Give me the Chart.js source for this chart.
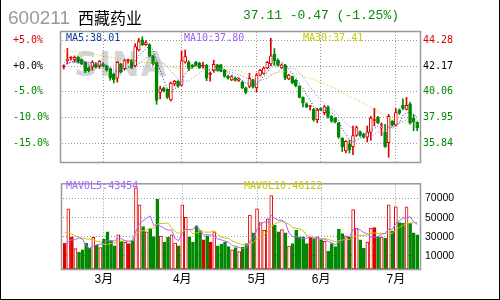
<!DOCTYPE html>
<html>
<head>
<meta charset="utf-8">
<script src="https://cdn.jsdelivr.net/npm/chart.js@4.4.0/dist/chart.umd.min.js"></script>
<style>
  body { margin: 0; background: #fff; }
  #wrap { position: relative; width: 500px; height: 300px; overflow: hidden; background: #fff;
          box-sizing: border-box; border: 1px solid #000; border-top: none; }
  canvas { position: absolute; left: -1px; z-index: 1; }
  .txt { position: absolute; white-space: pre; z-index: 2; line-height: 1; }
  .mono { font-family: "DejaVu Sans Mono", monospace; font-size: 10px; }
  #mark { position: absolute; left: 73px; top: 45px; z-index: 0; font: bold 33px "DejaVu Sans", sans-serif;
          color: #d4d4d4; letter-spacing: 1px; }
</style>
</head>
<body>
<div id="wrap">
  <div class="txt" style="left:7px;top:7px;font:19px 'Liberation Sans',sans-serif;color:#999">600211</div>
  <div class="txt" style="left:77px;top:5px;font:16px 'Noto Sans CJK SC',sans-serif;color:#000">西藏药业</div>
  <div class="txt" style="left:242px;top:8px;font:13px 'Liberation Mono',monospace;color:#118811">37.11 -0.47 (-1.25%)</div>
  <div id="mark">SINA</div>
  <div class="txt mono" style="left:65px;top:33px;color:#0a3d91">MA5:38.01</div>
  <div class="txt mono" style="left:183px;top:33px;color:#a060ff">MA10:37.80</div>
  <div class="txt mono" style="left:302px;top:33px;color:#c8c800">MA30:37.41</div>
  <div class="txt mono" style="left:65px;top:181px;color:#a366ff">MAVOL5:43454</div>
  <div class="txt mono" style="left:243px;top:181px;color:#c8c800">MAVOL10:46122</div>
  <canvas id="price" width="500" height="172" style="top:0"></canvas>
  <canvas id="vol" width="500" height="128" style="top:172px"></canvas>
</div>
<script>
const basePrice = 42.17;
const priceTicks = [44.28, 42.17, 40.06, 37.95, 35.84];
const volumeTicks = [10000, 30000, 50000, 70000];
const monthStarts = [11, 33, 54, 72, 93];
const monthNames = ['3月', '4月', '5月', '6月', '7月'];

const openP = [42.10, 42.61, 42.82, 42.69, 42.88, 42.69, 42.48, 42.04, 42.09, 42.35,
  42.22, 42.35, 42.17, 41.96, 41.51, 41.17, 42.35, 41.96, 42.61, 42.61,
  42.19, 43.50, 44.31, 43.92, 43.92, 43.00, 42.48, 40.00, 40.39, 40.26,
  39.39, 40.70, 40.92, 40.60, 42.48, 42.48, 42.22, 42.48, 42.41, 42.17,
  42.22, 41.48, 41.82, 42.27, 42.27, 41.82, 41.35, 41.04, 41.17, 40.99,
  40.84, 40.39, 40.52, 41.04, 40.39, 41.43, 41.57, 42.01, 42.35, 43.13,
  42.66, 42.01, 42.22, 41.12, 41.31, 41.00, 40.52, 39.60, 39.08, 38.85,
  38.61, 37.78, 38.69, 38.35, 38.82, 38.04, 37.90, 37.51, 36.26, 35.21,
  35.74, 35.55, 36.47, 36.78, 36.60, 36.33, 36.73, 37.70, 37.98, 37.08,
  36.73, 35.89, 37.64, 37.31, 38.56, 38.95, 38.61, 39.08, 37.90, 37.55];
const highP = [42.27, 43.61, 42.95, 43.00, 42.95, 42.74, 42.52, 42.10, 42.61, 42.45,
  42.62, 42.45, 42.22, 42.00, 41.60, 42.55, 42.40, 42.70, 42.74, 42.70,
  44.00, 44.44, 44.57, 44.25, 44.00, 43.05, 42.52, 40.52, 40.45, 40.30,
  40.85, 41.00, 40.98, 43.39, 43.47, 42.60, 42.30, 42.55, 42.48, 42.48,
  42.30, 41.70, 42.65, 42.32, 42.30, 41.90, 41.42, 41.38, 41.25, 41.20,
  40.92, 40.45, 41.57, 41.10, 41.57, 41.90, 42.10, 42.55, 44.44, 43.61,
  42.75, 42.35, 42.30, 41.50, 41.35, 41.05, 40.55, 39.65, 39.15, 38.95,
  38.70, 38.70, 38.75, 38.95, 38.90, 38.10, 37.95, 37.55, 36.30, 36.05,
  36.08, 37.25, 37.25, 36.85, 36.65, 37.25, 38.04, 38.69, 38.05, 37.51,
  37.39, 38.20, 37.70, 38.69, 38.65, 39.48, 39.60, 39.20, 38.17, 37.60];
const lowP = [41.92, 42.35, 42.65, 42.48, 42.40, 42.28, 41.62, 41.68, 41.83, 42.00,
  41.97, 42.10, 41.75, 41.00, 40.78, 40.84, 41.60, 41.85, 42.40, 41.95,
  42.10, 43.40, 43.85, 43.85, 42.90, 42.25, 39.03, 39.48, 40.05, 39.50,
  39.30, 40.55, 40.45, 40.52, 42.40, 41.80, 42.00, 42.15, 41.95, 42.00,
  40.97, 40.92, 41.65, 41.75, 41.70, 41.25, 41.10, 40.97, 40.92, 40.90,
  40.30, 39.90, 40.39, 40.35, 40.05, 41.35, 41.50, 41.95, 42.20, 42.22,
  42.15, 41.95, 41.05, 41.05, 40.70, 40.45, 39.55, 38.82, 38.75, 38.56,
  37.64, 37.51, 38.50, 38.17, 37.90, 37.55, 37.50, 36.25, 35.16, 35.05,
  35.03, 34.90, 36.40, 36.40, 36.25, 35.94, 36.08, 37.25, 37.45, 36.47,
  35.50, 34.69, 37.25, 37.25, 38.20, 38.60, 38.56, 37.40, 36.86, 36.86];
const closeP = [42.10, 42.74, 42.82, 42.88, 42.48, 42.35, 41.75, 41.78, 42.48, 42.09,
  42.56, 42.17, 41.82, 41.17, 41.04, 42.48, 41.70, 42.61, 42.61, 42.01,
  43.76, 44.18, 43.92, 44.10, 43.00, 42.35, 39.35, 40.31, 40.13, 39.60,
  40.78, 40.92, 40.52, 42.61, 42.95, 41.96, 42.09, 42.22, 42.04, 42.17,
  41.17, 41.48, 42.30, 41.82, 41.75, 41.31, 41.17, 41.31, 40.99, 41.10,
  40.39, 40.00, 41.17, 40.44, 41.43, 41.82, 42.01, 42.48, 43.00, 42.61,
  42.22, 42.27, 41.17, 41.43, 40.78, 40.55, 39.60, 39.13, 38.82, 38.85,
  37.78, 38.56, 38.56, 38.82, 38.04, 37.64, 37.57, 36.33, 35.55, 36.00,
  35.29, 36.47, 37.12, 36.47, 36.33, 36.78, 37.90, 37.70, 37.51, 37.15,
  35.55, 38.04, 37.31, 38.35, 38.30, 38.69, 38.95, 37.51, 37.58, 37.11];
const volume = [23600, 59300, 30100, 17800, 13900, 16500, 23600, 18100, 29500, 21400,
  18800, 27500, 35300, 26200, 20700, 32100, 25300, 24600, 22900, 26200,
  81300, 63500, 40800, 35300, 38500, 30400, 69300, 30700, 24600, 29500,
  32100, 23600, 20700, 63500, 50500, 30100, 24600, 41400, 36600, 26800,
  31100, 24600, 35300, 20700, 22400, 24600, 19700, 16500, 18800, 14600,
  19100, 22900, 52800, 34300, 59300, 45000, 36900, 48900, 73200, 42400,
  35300, 37500, 34300, 20400, 22900, 36900, 30100, 30100, 22900, 29500,
  27800, 30100, 26800, 25300, 14900, 22900, 19700, 38200, 33300, 31100,
  29500, 58600, 39200, 26800, 18100, 24600, 39200, 39800, 30100, 30100,
  28500, 63500, 36000, 61300, 45000, 44000, 61300, 44000, 34300, 32100];

// moving average values at the left edge (their windows start before the chart)
const ma5Head = [42.20, 42.35, 42.48, 42.58];
const ma10Head = [42.45, 42.46, 42.47, 42.48, 42.48, 42.47, 42.45, 42.42, 42.40];
const ma30Head = [43.39, 43.38, 43.36, 43.34, 43.32, 43.30, 43.27, 43.22, 43.17, 43.12,
  43.06, 43.00, 42.95, 42.90, 42.85, 42.78, 42.70, 42.64, 42.58, 42.53,
  42.50, 42.47, 42.45, 42.44, 42.43, 42.43, 42.42, 42.41, 42.40];
const mavol5Head = [21700, 25000, 27000, 27000];
const mavol10Head = [34300, 34800, 33000, 31000, 29500, 28500, 28000, 27500, 27000];

const upColor = '#e00000';
const downColor = '#008800';
const gridColor = '#999';
const days = closeP.map((c, i) => i);

function movingAvg(values, n, head) {
  return values.map((v, i) => {
    if (i < n - 1) return head[i];
    let s = 0;
    for (let k = i - n + 1; k <= i; k++) s += values[k];
    return s / n;
  });
}
const isDown = i => closeP[i] < openP[i];
const lineColor = i => isDown(i) ? downColor : upColor;
const fillColor = i => isDown(i) ? downColor : (closeP[i] === openP[i] ? upColor : '#fff');
const tickColor = v => Math.abs(v - basePrice) < 0.001 ? '#000' : (v > basePrice ? upColor : downColor);

const framePlugin = {
  id: 'frame',
  afterDraw(chart) {
    const a = chart.chartArea, c = chart.ctx;
    c.save();
    c.strokeStyle = '#999';
    c.lineWidth = 1.5;
    c.strokeRect(a.left - 1.5, a.top - 0.5, a.right - a.left + 3, a.bottom - a.top + 1);
    c.restore();
  }
};

const monoFont = { family: 'DejaVu Sans Mono', size: 10 };
const xMonths = extra => Object.assign({
  offset: true,
  grid: { offset: false, color: gridColor, drawTicks: false },
  border: { display: false, dash: [1, 2] },
  afterBuildTicks: s => { s.ticks = monthStarts.map(v => ({ value: v })); }
}, extra);

const yMin = 34.30, yMax = 44.96;
new Chart(document.getElementById('price'), {
  type: 'bar',
  data: {
    labels: days,
    datasets: [
      { data: lowP.map((l, i) => [l, highP[i]]), backgroundColor: days.map(lineColor),
        barThickness: 1, grouped: false, order: 3, minBarLength: 1 },
      { data: openP.map((o, i) => [Math.min(o, closeP[i]), Math.max(o, closeP[i])]),
        backgroundColor: days.map(fillColor), borderColor: days.map(lineColor), borderWidth: 1,
        borderSkipped: false, barThickness: 3, grouped: false, order: 2, minBarLength: 1 },
      { type: 'line', data: movingAvg(closeP, 30, ma30Head), borderColor: '#c8c800', borderWidth: 1,
        borderDash: [1, 2], pointRadius: 0, order: 1 },
      { type: 'line', data: movingAvg(closeP, 10, ma10Head), borderColor: '#a060ff', borderWidth: 1,
        borderDash: [1, 2], pointRadius: 0, order: 1 },
      { type: 'line', data: movingAvg(closeP, 5, ma5Head), borderColor: '#0a3d91', borderWidth: 1,
        borderDash: [1, 2], pointRadius: 0, order: 0 }
    ]
  },
  options: {
    responsive: false,
    animation: false,
    layout: { padding: { left: 13, top: 32, bottom: 4, right: 0 } },
    plugins: { legend: { display: false }, tooltip: { enabled: false } },
    scales: {
      x: xMonths({ ticks: { display: false, autoSkip: false }, afterFit: s => { s.height = 0; } }),
      y: {
        position: 'left', min: yMin, max: yMax,
        afterBuildTicks: s => { s.ticks = priceTicks.map(v => ({ value: v })); },
        afterFit: s => { s.width = 49; },
        grid: { color: gridColor, drawTicks: false },
        border: { display: false, dash: [1, 2] },
        ticks: {
          crossAlign: 'far', font: monoFont, color: c => tickColor(c.tick.value),
          callback: v => {
            const p = (v / basePrice - 1) * 100;
            return (p >= -0.04 ? '+' : '-') + Math.abs(p).toFixed(1) + '%';
          }
        }
      },
      yr: {
        position: 'right', min: yMin, max: yMax,
        afterBuildTicks: s => { s.ticks = priceTicks.map(v => ({ value: v })); },
        afterFit: s => { s.width = 81; },
        grid: { drawOnChartArea: false, drawTicks: false },
        border: { display: false },
        ticks: { padding: 4, font: monoFont, color: c => tickColor(c.tick.value), callback: v => v.toFixed(2) }
      }
    }
  },
  plugins: [framePlugin]
});

const volMin = -3600, volMax = 84900;
new Chart(document.getElementById('vol'), {
  type: 'bar',
  data: {
    labels: days,
    datasets: [
      { data: volume, base: volMin, backgroundColor: days.map(fillColor), borderColor: days.map(lineColor),
        borderWidth: 1, borderSkipped: false, barThickness: 3, order: 2 },
      { type: 'line', data: movingAvg(volume, 10, mavol10Head), borderColor: '#c8c800', borderWidth: 1,
        pointRadius: 0, order: 1 },
      { type: 'line', data: movingAvg(volume, 5, mavol5Head), borderColor: '#a366ff', borderWidth: 1,
        pointRadius: 0, order: 0 }
    ]
  },
  options: {
    responsive: false,
    animation: false,
    layout: { padding: { left: 63, top: 6, bottom: 0, right: 0 } },
    plugins: { legend: { display: false }, tooltip: { enabled: false } },
    scales: {
      x: xMonths({
        ticks: { autoSkip: false, maxRotation: 0, padding: 3, color: '#000',
                 font: { family: "'Liberation Sans', 'Noto Sans CJK SC'", size: 12 },
                 callback: v => monthNames[monthStarts.indexOf(v)] },
        afterFit: s => { s.height = 31; }
      }),
      y: {
        position: 'right', min: volMin, max: volMax,
        afterBuildTicks: s => { s.ticks = volumeTicks.map(v => ({ value: v })); },
        afterFit: s => { s.width = 81; },
        grid: { color: gridColor, drawTicks: false },
        border: { display: false, dash: [1, 2] },
        ticks: { padding: 6, color: '#000', font: { family: 'Liberation Sans', size: 10.5 },
                 callback: v => String(v) }
      }
    }
  },
  plugins: [framePlugin]
});
</script>
</body>
</html>
